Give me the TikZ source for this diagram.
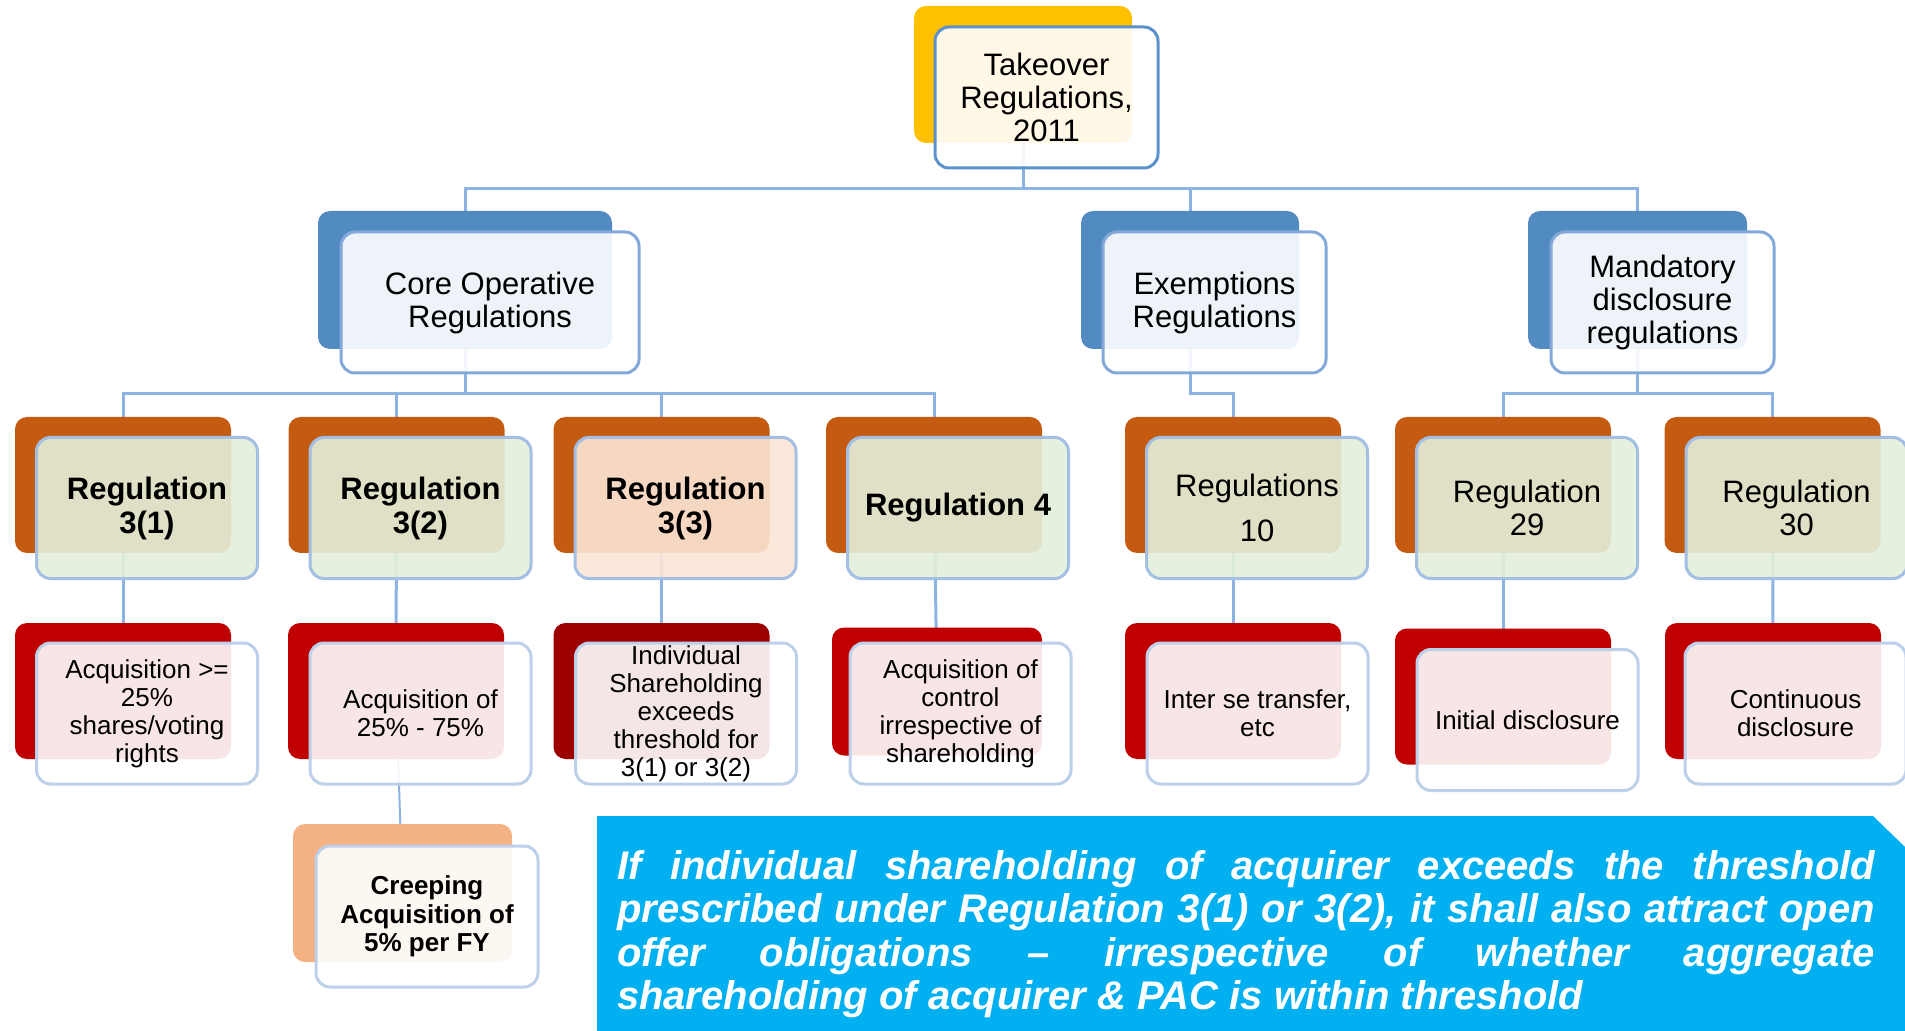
\documentclass[tikz,border=0pt]{standalone}
\usepackage{fontspec}
\setmainfont{Liberation Sans}
\usetikzlibrary{calc}

\definecolor{cYellow}{HTML}{FFC000}
\definecolor{cBlue}{HTML}{528AC2}
\definecolor{cOrange}{HTML}{C55A11}
\definecolor{cRed}{HTML}{C00000}
\definecolor{cDarkRed}{HTML}{9C0000}
\definecolor{cPeach}{HTML}{F4B183}
\definecolor{cCallout}{HTML}{00B0F0}
\definecolor{cConn}{HTML}{8DB3E2}
\definecolor{bTop}{HTML}{5B92CB}
\definecolor{bMid}{HTML}{82A9D9}
\definecolor{bLow}{HTML}{A3BFE3}
\definecolor{bLeaf}{HTML}{BDD0EA}
\definecolor{fGreen}{HTML}{E2EFDA}
\definecolor{fPeach}{HTML}{FBE5D6}

\pgfdeclarelayer{bg}
\pgfsetlayers{bg,main}

\begin{document}
\begin{tikzpicture}[x=0.5pt,y=-0.5pt,
  backbox/.style={draw=none, rounded corners=6pt, inner sep=0pt},
  frontbox/.style={rounded corners=7pt, inner sep=0pt, line width=1.5pt,
    fill=white, fill opacity=0.9, text opacity=1, align=center, text=black},
  lvthree/.style={minimum width=108pt, minimum height=68pt},
  lvthreef/.style={minimum width=110.5pt, minimum height=70.5pt, draw=bLow,
    fill=fGreen},
  lvfour/.style={minimum width=108pt, minimum height=68pt},
  lvfourf/.style={minimum width=110.5pt, minimum height=70.5pt, draw=bLeaf},
  ftitle/.style={font=\fontsize{15.5pt}{16.5pt}\selectfont},
  fbold/.style={font=\fontsize{15.5pt}{17pt}\selectfont\bfseries},
  fleaf/.style={font=\fontsize{13pt}{14pt}\selectfont},
  fleafb/.style={font=\fontsize{13pt}{14.25pt}\selectfont\bfseries},
  conn/.style={draw=cConn, line width=1.5pt},
]
\useasboundingbox (0,0) rectangle (1905,1031);

% ---- root ----
\node[backbox, fill=cYellow, minimum width=109pt, minimum height=68.5pt] (top) at (1023,74.5) {};
\node[frontbox, draw=bTop, ftitle, minimum width=111.5pt, minimum height=70.5pt] (topf) at (1046.5,97.5) {Takeover\\Regulations,\\2011};

% ---- second level ----
\node[backbox, fill=cBlue, minimum width=147pt, minimum height=69pt] (core) at (465,280) {};
\node[frontbox, draw=bMid, ftitle, minimum width=149pt, minimum height=70.5pt] (coref) at (490,302.5) {Core Operative\\Regulations};

\node[backbox, fill=cBlue, minimum width=109pt, minimum height=69pt] (exem) at (1190,280) {};
\node[frontbox, draw=bMid, ftitle, minimum width=111.5pt, minimum height=70.5pt] (exemf) at (1214.5,302.5) {Exemptions\\Regulations};

\node[backbox, fill=cBlue, minimum width=109.5pt, minimum height=69pt] (mand) at (1637.5,280) {};
\node[frontbox, draw=bMid, ftitle, minimum width=111.5pt, minimum height=70.5pt] (mandf) at (1662.5,302.5) {Mandatory\\disclosure\\regulations};

% ---- third level ----
\node[backbox, lvthree, fill=cOrange] (r31) at (123,485) {};
\node[frontbox, lvthreef, fbold] (r31f) at (147,508) {Regulation\\3(1)};

\node[backbox, lvthree, fill=cOrange] (r32) at (396.5,485) {};
\node[frontbox, lvthreef, fbold] (r32f) at (420.5,508) {Regulation\\3(2)};

\node[backbox, lvthree, fill=cOrange] (r33) at (661.5,485) {};
\node[frontbox, lvthreef, fbold, fill=fPeach] (r33f) at (685.5,508) {Regulation\\3(3)};

\node[backbox, lvthree, fill=cOrange] (r4) at (934,485) {};
\node[frontbox, lvthreef, fbold] (r4f) at (958,508) {Regulation 4};

\node[backbox, lvthree, fill=cOrange] (r10) at (1233,485) {};
\node[frontbox, lvthreef, ftitle] (r10f) at (1257,508) {Regulations\\[6pt]10};

\node[backbox, lvthree, fill=cOrange] (r29) at (1503,485) {};
\node[frontbox, lvthreef, ftitle] (r29f) at (1527,508) {Regulation\\29};

\node[backbox, lvthree, fill=cOrange] (r30) at (1772.5,485) {};
\node[frontbox, lvthreef, ftitle] (r30f) at (1796.5,508) {Regulation\\30};

% ---- fourth level ----
\node[backbox, lvfour, fill=cRed] (a1) at (123,691) {};
\node[frontbox, lvfourf, fleaf] (a1f) at (147,713.5) {Acquisition >=\\25\%\\shares/voting\\rights};

\node[backbox, lvfour, fill=cRed] (a2) at (396,691) {};
\node[frontbox, lvfourf, fleaf] (a2f) at (420.5,713.5) {Acquisition of\\25\% - 75\%};

\node[backbox, lvfour, fill=cDarkRed] (a3) at (661.5,691) {};
\node[frontbox, lvfourf, fleaf] (a3f) at (686,713.5) {Individual\\Shareholding\\exceeds\\threshold for\\3(1) or 3(2)};

\node[backbox, fill=cRed, minimum width=105pt, minimum height=64pt] (a4) at (937,691.5) {};
\node[frontbox, lvfourf, fleaf] (a4f) at (960.5,713.5) {Acquisition of\\control\\irrespective of\\shareholding};

\node[backbox, lvfour, fill=cRed] (a5) at (1233,691) {};
\node[frontbox, lvfourf, fleaf] (a5f) at (1257.5,713.5) {Inter se transfer,\\etc};

\node[backbox, lvfour, fill=cRed] (a6) at (1503,696.5) {};
\node[frontbox, lvfourf, fleaf] (a6f) at (1527.5,720) {Initial disclosure};

\node[backbox, lvfour, fill=cRed] (a7) at (1773,691) {};
\node[frontbox, lvfourf, fleaf] (a7f) at (1795.5,713.5) {Continuous\\disclosure};

% ---- fifth level ----
\node[backbox, fill=cPeach, minimum width=109.5pt, minimum height=69pt] (cr) at (402.5,893) {};
\node[frontbox, draw=bLeaf, fleafb, minimum width=111pt, minimum height=70.5pt] (crf) at (427,916.5) {Creeping\\Acquisition of\\5\% per FY};

% ---- connectors (behind the boxes) ----
\coordinate (bus0) at (0,189);
\coordinate (bus1) at (0,394);
\begin{pgfonlayer}{bg}
  \draw[conn] (top.center) -- (top.center |- bus0) -| (core.center);
  \draw[conn] (top.center |- bus0) -| (exem.center);
  \draw[conn] (top.center |- bus0) -| (mand.center);
  \draw[conn] (core.center) -- (core.center |- bus1) -| (r31.center);
  \draw[conn] (core.center |- bus1) -| (r32.center);
  \draw[conn] (core.center |- bus1) -| (r33.center);
  \draw[conn] (core.center |- bus1) -| (r4.center);
  \draw[conn] (exem.center) -- (exem.center |- bus1) -| (r10.center);
  \draw[conn] (mand.center) -- (mand.center |- bus1) -| (r29.center);
  \draw[conn] (mand.center |- bus1) -| (r30.center);
  \draw[conn] (r31.center) -- (a1.center);
  \draw[conn] (r32.center) -- (a2.center);
  \draw[conn] (r33.center) -- (a3.center);
  \draw[conn] (r4.center) -- (a4.center);
  \draw[conn] (r10.center) -- (a5.center);
  \draw[conn] (r29.center) -- (a6.center);
  \draw[conn] (r30.center) -- (a7.center);
  \draw[conn, line width=1pt] (a2.center) -- (cr.center);
\end{pgfonlayer}

% ---- note panel ----
\fill[cCallout] (597,816) -- (1873,816) -- (1905,847) -- (1905,1031) -- (597,1031) -- cycle;
\node[text=white, font=\fontsize{20pt}{21.75pt}\selectfont\bfseries\itshape, align=left, inner sep=0pt] (note) at (1246,934) {%
\makebox[629pt][s]{If individual shareholding of acquirer exceeds the threshold}\\
\makebox[629pt][s]{prescribed under Regulation 3(1) or 3(2), it shall also attract open}\\
\makebox[629pt][s]{offer obligations – irrespective of whether aggregate}\\
\makebox[629pt][l]{shareholding of acquirer \& PAC is within threshold}};
\end{tikzpicture}
\end{document}
